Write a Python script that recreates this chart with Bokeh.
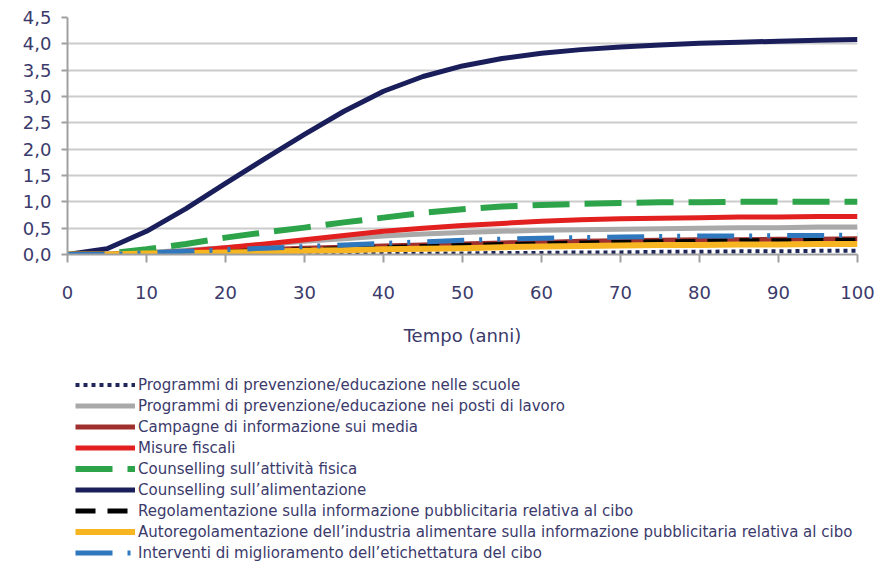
from bokeh.plotting import figure
from bokeh.models import Legend, LegendItem, FixedTicker, Range1d
from bokeh.layouts import column
from bokeh.embed import file_html
from bokeh.resources import INLINE

# ---- data ----
years = [0, 5, 10, 15, 20, 25, 30, 35, 40, 45, 50, 55, 60, 65, 70, 75, 80, 85, 90, 95, 100]

scuole = [0, 0, 0, 0, 0, 0.01, 0.01, 0.01, 0.02, 0.02, 0.02, 0.03, 0.03, 0.04, 0.04, 0.05, 0.05, 0.06, 0.06, 0.07, 0.07]
lavoro = [0, 0.01, 0.04, 0.08, 0.13, 0.19, 0.25, 0.30, 0.35, 0.39, 0.42, 0.44, 0.46, 0.47, 0.48, 0.49, 0.50, 0.51, 0.51, 0.52, 0.52]
media = [0, 0, 0.02, 0.04, 0.07, 0.09, 0.12, 0.14, 0.16, 0.18, 0.20, 0.22, 0.23, 0.25, 0.26, 0.27, 0.28, 0.28, 0.29, 0.29, 0.30]
fiscali = [0, 0, 0.02, 0.06, 0.13, 0.20, 0.28, 0.36, 0.44, 0.50, 0.55, 0.59, 0.63, 0.66, 0.68, 0.69, 0.70, 0.71, 0.71, 0.72, 0.72]
fisica = [0, 0.02, 0.10, 0.20, 0.32, 0.42, 0.51, 0.61, 0.70, 0.79, 0.86, 0.91, 0.94, 0.96, 0.98, 0.99, 0.99, 1.00, 1.00, 1.00, 1.00]
alimentazione = [0, 0.11, 0.44, 0.87, 1.35, 1.82, 2.28, 2.72, 3.10, 3.38, 3.58, 3.72, 3.82, 3.89, 3.94, 3.98, 4.01, 4.03, 4.05, 4.07, 4.08]
pubblicita = [0, 0, 0.01, 0.03, 0.05, 0.07, 0.09, 0.11, 0.13, 0.15, 0.17, 0.19, 0.20, 0.22, 0.23, 0.24, 0.25, 0.26, 0.26, 0.27, 0.27]
autoreg = [0, 0, 0.02, 0.03, 0.04, 0.05, 0.07, 0.08, 0.10, 0.11, 0.12, 0.14, 0.15, 0.16, 0.17, 0.18, 0.18, 0.19, 0.19, 0.20, 0.20]
etichettatura = [0, 0, 0.03, 0.06, 0.09, 0.12, 0.15, 0.18, 0.21, 0.24, 0.27, 0.29, 0.31, 0.32, 0.33, 0.34, 0.35, 0.35, 0.36, 0.36, 0.37]

series_labels = [
    "Programmi di prevenzione/educazione nelle scuole",
    "Programmi di prevenzione/educazione nei posti di lavoro",
    "Campagne di informazione sui media",
    "Misure fiscali",
    "Counselling sull\u2019attivit\u00e0 fisica",
    "Counselling sull\u2019alimentazione",
    "Regolamentazione sulla informazione pubblicitaria relativa al cibo",
    "Autoregolamentazione dell\u2019industria alimentare sulla informazione pubblicitaria relativa al cibo",
    "Interventi di miglioramento dell\u2019etichettatura del cibo",
]

x_ticks = [0, 10, 20, 30, 40, 50, 60, 70, 80, 90, 100]
y_ticks = [0, 0.5, 1.0, 1.5, 2.0, 2.5, 3.0, 3.5, 4.0, 4.5]
y_tick_labels = ["0,0", "0,5", "1,0", "1,5", "2,0", "2,5", "3,0", "3,5", "4,0", "4,5"]
x_title = "Tempo (anni)"

# ---- styles ----
FONT = "DejaVu Sans"
TXT = "#3b3a6b"
styles = [
    dict(line_color="#1f2858", line_width=4, line_dash="4 4"),
    dict(line_color="#a9a9a9", line_width=5, line_dash="solid"),
    dict(line_color="#a0302e", line_width=5, line_dash="solid"),
    dict(line_color="#e2201f", line_width=5, line_dash="solid"),
    dict(line_color="#2ea44a", line_width=6, line_dash="37 15"),
    dict(line_color="#1a1f5c", line_width=5, line_dash="solid"),
    dict(line_color="#000000", line_width=5, line_dash="20 12"),
    dict(line_color="#f7b621", line_width=6, line_dash="solid"),
    dict(line_color="#2f78bd", line_width=5, line_dash="37 15 3 15 3 17"),
]
data = [scuole, lavoro, media, fiscali, fisica, alimentazione, pubblicita, autoreg, etichettatura]

# ---- main chart ----
p = figure(width=880, height=366, x_range=(0, 100), y_range=(0, 4.5),
           output_backend="svg", toolbar_location=None,
           min_border_top=17, min_border_left=67, min_border_right=23, min_border_bottom=112)
p.outline_line_color = None
p.background_fill_color = "white"
p.border_fill_color = "white"

p.xgrid.grid_line_color = None
p.ygrid.grid_line_color = "#cccccc"
p.ygrid.grid_line_width = 2
p.ygrid.ticker = FixedTicker(ticks=y_ticks)

p.xaxis.ticker = FixedTicker(ticks=x_ticks)
p.yaxis.ticker = FixedTicker(ticks=y_ticks)
p.yaxis.major_label_overrides = {t: l for t, l in zip(y_ticks, y_tick_labels)}
p.xaxis.axis_label = x_title

for ax in (p.xaxis, p.yaxis):
    ax.axis_line_color = "#a0a0a0"
    ax.axis_line_width = 2
    ax.major_tick_line_color = "#a0a0a0"
    ax.major_tick_line_width = 2
    ax.major_tick_in = 0
    ax.minor_tick_line_color = None
    ax.major_label_text_font = FONT
    ax.major_label_text_font_size = "18px"
    ax.major_label_text_color = TXT
p.xaxis.major_tick_out = 8
p.xaxis.major_label_standoff = 23
p.yaxis.major_tick_out = 6
p.yaxis.major_label_standoff = 10
p.xaxis.axis_label_text_font = FONT
p.xaxis.axis_label_text_font_size = "18px"
p.xaxis.axis_label_text_font_style = "normal"
p.xaxis.axis_label_text_color = TXT
p.xaxis.axis_label_standoff = 23

for ys, st in zip(data, styles):
    p.line(years, ys, line_join="round", **st)

# ---- legend panel below the chart ----
# the same series are drawn here outside the visible range; only their legend glyphs show
lg = figure(width=880, height=198, output_backend="svg", toolbar_location=None,
            x_axis_type=None, y_axis_type=None, min_border=0,
            x_range=Range1d(1000, 1100), y_range=Range1d(0, 4.5))
lg.outline_line_color = None
lg.xgrid.grid_line_color = None
lg.ygrid.grid_line_color = None
lg.border_fill_color = "white"
lg.background_fill_color = "white"

items = []
for lab, ys, st in zip(series_labels, data, styles):
    r = lg.line(years, ys, **st)
    items.append(LegendItem(label=lab, renderers=[r]))

legend = Legend(items=items, location="top_left", orientation="vertical",
                margin=8, padding=0, spacing=0,
                glyph_width=60, glyph_height=21, label_height=21,
                label_standoff=3,
                label_text_font=FONT, label_text_font_size="15px",
                label_text_color=TXT,
                border_line_color=None, background_fill_alpha=0)
lg.add_layout(legend)

layout = column(p, lg, spacing=0)
open("out.html", "w").write(file_html(layout, INLINE))
